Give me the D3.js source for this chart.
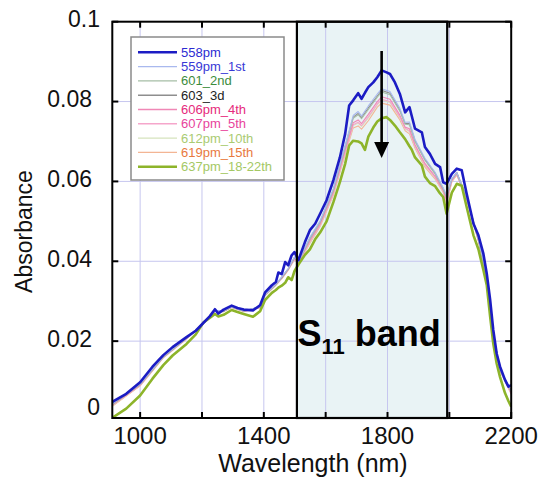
<!DOCTYPE html>
<html>
<head>
<meta charset="utf-8">
<script src="https://cdn.jsdelivr.net/npm/d3@7"></script>
<style>
  html, body { margin: 0; padding: 0; background: #fff; }
  svg { display: block; font-family: "Liberation Sans", Arial, Helvetica, sans-serif; }
</style>
</head>
<body>
<div id="chart"></div>
<script>
'use strict';

// NIR-Spektren: Absorbance vs. Wavelength (nm)
const wavelengths = [910, 955, 1000, 1040, 1075, 1105, 1150, 1180, 1205, 1225, 1242, 1253, 1270, 1296, 1315, 1335, 1365, 1388, 1404, 1426,
  1439, 1447, 1458, 1469, 1479, 1490, 1499, 1512, 1533, 1549, 1566, 1582, 1603, 1625, 1646, 1663, 1676, 1689, 1705, 1716,
  1727, 1738, 1754, 1767, 1781, 1797, 1808, 1824, 1840, 1857, 1871, 1878, 1889, 1911, 1921, 1937, 1954, 1970, 1980, 1991,
  2008, 2024, 2040, 2056, 2078, 2094, 2110, 2121, 2132, 2142, 2153, 2164, 2180, 2191, 2200];

const abs558 = [.0048, .0068, .0097, .0136, .0165, .0185, .0210, .0226, .0246, .0262, .0280, .0269, .0279, .0289, .0283, .0279, .0277, .0290, .0322, .0340,
  .0348, .0372, .0368, .0398, .0390, .0415, .0423, .0403, .0448, .0478, .0494, .0519, .0553, .0603, .0660, .0719, .0790, .0803, .0821, .0807,
  .0822, .0836, .0848, .0861, .0878, .0873, .0869, .0848, .0819, .0773, .0786, .0765, .0732, .0723, .0686, .0669, .0644, .0636, .0598, .0594,
  .0619, .0632, .0628, .0569, .0494, .0465, .0419, .0369, .0303, .0228, .0169, .0136, .0103, .0086, .0090];

const abs637 = [.0008, .0031, .0064, .0106, .0140, .0164, .0193, .0217, .0247, .0258, .0268, .0262, .0266, .0278, .0273, .0268, .0261, .0275, .0303, .0321,
  .0328, .0334, .0339, .0346, .0360, .0353, .0375, .0392, .0416, .0430, .0455, .0472, .0500, .0548, .0598, .0644, .0690, .0702, .0700, .0695,
  .0679, .0712, .0735, .0750, .0758, .0761, .0754, .0740, .0723, .0706, .0688, .0680, .0660, .0640, .0612, .0596, .0588, .0570, .0561, .0519,
  .0572, .0594, .0589, .0536, .0465, .0430, .0378, .0340, .0261, .0194, .0144, .0110, .0070, .0050, .0036];

// Zwischenproben: gröberes Raster
const midWavelengths = [910, 1000, 1075, 1150, 1205, 1242, 1270, 1296, 1335, 1388, 1404, 1439, 1458, 1479, 1499, 1512, 1549, 1582, 1625, 1663,
  1689, 1705, 1716, 1738, 1767, 1781, 1808, 1840, 1857, 1871, 1889, 1921, 1954, 1980, 1991, 2008, 2024, 2056, 2094, 2121,
  2142, 2164, 2200];

const abs559 = [.0043, .0093, .0162, .0208, .0246, .0277, .0276, .0286, .0276, .0286, .0317, .0343, .0361, .0382, .0411, .0399, .0460, .0501, .0582, .0690,
  .0765, .0775, .0764, .0789, .0819, .0832, .0825, .0783, .0748, .0749, .0705, .0658, .0623, .0584, .0565, .0607, .0622, .0561, .0456, .0362,
  .0219, .0129, .0076];
const abs601 = [.0041, .0091, .0160, .0207, .0246, .0276, .0275, .0285, .0275, .0286, .0316, .0342, .0360, .0381, .0410, .0398, .0456, .0498, .0578, .0685,
  .0758, .0767, .0757, .0780, .0811, .0824, .0817, .0776, .0743, .0742, .0700, .0653, .0619, .0581, .0560, .0605, .0621, .0559, .0454, .0360,
  .0218, .0128, .0074];
const abs603 = [.0042, .0092, .0161, .0207, .0245, .0276, .0275, .0286, .0276, .0285, .0316, .0342, .0359, .0381, .0409, .0399, .0458, .0499, .0580, .0688,
  .0761, .0770, .0760, .0784, .0814, .0828, .0821, .0779, .0745, .0745, .0702, .0655, .0620, .0582, .0563, .0606, .0623, .0560, .0455, .0361,
  .0219, .0129, .0075];
const abs606 = [.0040, .0090, .0160, .0207, .0246, .0276, .0275, .0285, .0275, .0285, .0316, .0342, .0359, .0380, .0408, .0397, .0452, .0493, .0573, .0678,
  .0747, .0754, .0745, .0768, .0800, .0812, .0806, .0766, .0736, .0732, .0692, .0645, .0613, .0578, .0553, .0603, .0619, .0557, .0453, .0359,
  .0216, .0127, .0071];
const abs607 = [.0039, .0089, .0159, .0206, .0246, .0275, .0274, .0284, .0274, .0284, .0315, .0341, .0358, .0379, .0406, .0396, .0449, .0491, .0570, .0674,
  .0742, .0748, .0740, .0762, .0794, .0806, .0800, .0761, .0733, .0727, .0689, .0642, .0610, .0576, .0549, .0601, .0618, .0556, .0452, .0358,
  .0215, .0126, .0069];
const abs612 = [.0038, .0089, .0159, .0206, .0246, .0275, .0274, .0285, .0275, .0284, .0315, .0340, .0357, .0379, .0405, .0396, .0448, .0490, .0569, .0672,
  .0740, .0746, .0738, .0759, .0792, .0804, .0798, .0759, .0731, .0725, .0687, .0640, .0609, .0575, .0547, .0600, .0617, .0556, .0451, .0357,
  .0214, .0126, .0068];
const abs619 = [.0037, .0088, .0158, .0205, .0246, .0275, .0274, .0285, .0275, .0284, .0314, .0340, .0356, .0378, .0404, .0395, .0445, .0487, .0566, .0668,
  .0734, .0739, .0731, .0752, .0786, .0796, .0791, .0754, .0727, .0719, .0683, .0636, .0606, .0573, .0543, .0599, .0616, .0555, .0450, .0357,
  .0214, .0125, .0067];

const seriesLabels = ['558pm', '559pm_1st', '601_2nd', '603_3d', '606pm_4th', '607pm_5th', '612pm_10th', '619pm_15th', '637pm_18-22th'];
const xTicks = [1000, 1200, 1400, 1600, 1800, 2000, 2200];
const xTickLabels = [1000, 1400, 1800, 2200];
const yTicks = [0, 0.02, 0.04, 0.06, 0.08, 0.1];
const bandRange = [1507, 1993];   // S11-Bande
const arrowAt = 1781;

(function () {
  const width = 541, height = 477;
  const left = 112.3, right = 511.2, top = 21.7, bottom = 418;

  // Linienfarben, Textfarben, Strichstärken in Legendenreihenfolge
  const lineColor = ['#1c1cc4', '#a9b9ee', '#a6bea6', '#8e8e8e', '#f088b6', '#f5a6cb', '#d6e3bd', '#f3b594', '#8db42a'];
  const textColor = ['#2b2bd2', '#3838d6', '#3c8c3c', '#222222', '#e62a7c', '#e8449c', '#a9cb72', '#e8793e', '#a4c864'];
  const lineWidth = [2.6, 1.1, 1.1, 1.1, 1.1, 1.1, 1.1, 1.1, 2.6];

  const series = [
    { x: wavelengths, y: abs558 },
    { x: midWavelengths, y: abs559 },
    { x: midWavelengths, y: abs601 },
    { x: midWavelengths, y: abs603 },
    { x: midWavelengths, y: abs606 },
    { x: midWavelengths, y: abs607 },
    { x: midWavelengths, y: abs612 },
    { x: midWavelengths, y: abs619 },
    { x: wavelengths, y: abs637 }
  ];

  const x = d3.scaleLinear().domain([910, 2200]).range([left, right]);
  const y = d3.scaleLinear().domain([0, 0.1]).range([421, 21.7]);

  const svg = d3.select('#chart').append('svg')
    .attr('width', width).attr('height', height);

  svg.append('defs').append('clipPath').attr('id', 'plot-clip')
    .append('rect').attr('x', left).attr('y', top)
    .attr('width', right - left).attr('height', bottom - top);

  // Bandfläche unter dem Gitter
  svg.append('rect')
    .attr('x', x(bandRange[0])).attr('y', top)
    .attr('width', x(bandRange[1]) - x(bandRange[0])).attr('height', bottom - top)
    .attr('fill', '#e9f3f5');

  const grid = svg.append('g').attr('stroke', '#c6c6ef').attr('stroke-width', 1);
  grid.selectAll('line.gx')
    .data(xTicks.filter(t => t < 2200))
    .join('line').attr('class', 'gx')
      .attr('x1', d => x(d)).attr('x2', d => x(d))
      .attr('y1', top).attr('y2', bottom);
  grid.selectAll('line.gy')
    .data(yTicks.filter(t => t > 0 && t < 0.1))
    .join('line').attr('class', 'gy')
      .attr('x1', left).attr('x2', right)
      .attr('y1', d => y(d)).attr('y2', d => y(d));

  // Kurven: Zwischenproben zuerst, dann 637 und 558 obenauf
  const line = d3.line().x(d => x(d[0])).y(d => y(d[1]));
  const drawOrder = [7, 6, 5, 4, 3, 2, 1, 8, 0];
  const curves = svg.append('g').attr('clip-path', 'url(#plot-clip)');
  drawOrder.forEach(i => {
    const s = series[i];
    curves.append('path')
      .datum(s.x.map((w, k) => [w, s.y[k]]))
      .attr('d', line)
      .attr('fill', 'none')
      .attr('stroke', lineColor[i])
      .attr('stroke-width', lineWidth[i])
      .attr('stroke-linejoin', 'round');
  });

  // Bandrahmen
  svg.append('rect')
    .attr('x', x(bandRange[0])).attr('y', top)
    .attr('width', x(bandRange[1]) - x(bandRange[0])).attr('height', bottom - top)
    .attr('fill', 'none').attr('stroke', '#000').attr('stroke-width', 2.2);

  // Pfeil (Abnahme der Absorbance)
  const ax = x(arrowAt);
  svg.append('line')
    .attr('x1', ax).attr('x2', ax).attr('y1', 51).attr('y2', 145)
    .attr('stroke', '#000').attr('stroke-width', 2.6);
  svg.append('path')
    .attr('d', `M${ax - 7.5},142 L${ax + 7.5},142 L${ax},158 Z`)
    .attr('fill', '#000');

  // S11 band
  const band = svg.append('text')
    .attr('x', x(bandRange[0]) + 0.5).attr('y', 346)
    .attr('font-size', 36).attr('font-weight', 'bold').attr('fill', '#000');
  band.append('tspan').text('S');
  band.append('tspan').attr('font-size', 22).attr('dy', 8).text('11');
  band.append('tspan').attr('dy', -8).text(' band');

  // Rahmen und Ticks (innen, alle vier Seiten)
  svg.append('rect')
    .attr('x', left).attr('y', top)
    .attr('width', right - left).attr('height', bottom - top)
    .attr('fill', 'none').attr('stroke', '#000').attr('stroke-width', 2);

  const ticks = svg.append('g').attr('stroke', '#000').attr('stroke-width', 2);
  xTicks.forEach(t => {
    ticks.append('line').attr('x1', x(t)).attr('x2', x(t)).attr('y1', bottom).attr('y2', bottom - 6);
    ticks.append('line').attr('x1', x(t)).attr('x2', x(t)).attr('y1', top).attr('y2', top + 6);
  });
  yTicks.forEach(t => {
    const yy = Math.min(y(t), bottom);
    ticks.append('line').attr('x1', left).attr('x2', left + 6).attr('y1', yy).attr('y2', yy);
    ticks.append('line').attr('x1', right).attr('x2', right - 6).attr('y1', yy).attr('y2', yy);
  });

  svg.append('g').selectAll('text')
    .data(xTickLabels)
    .join('text')
      .attr('x', d => x(d)).attr('y', 444)
      .attr('text-anchor', 'middle')
      .attr('font-size', 24).attr('fill', '#111')
      .text(d => d);

  svg.append('g').selectAll('text')
    .data(yTicks)
    .join('text')
      .attr('x', d => (d === 0 || d === 0.1) ? 100 : 92)
      .attr('y', d => d === 0 ? 414.5 : y(d) + 5.5)
      .attr('text-anchor', 'end')
      .attr('font-size', 23).attr('fill', '#111')
      .text(d => d3.format('~g')(d));

  svg.append('text')
    .attr('x', 313).attr('y', 472)
    .attr('text-anchor', 'middle')
    .attr('font-size', 25).attr('fill', '#111')
    .text('Wavelength (nm)');

  svg.append('text')
    .attr('transform', 'translate(32,231.5) rotate(-90)')
    .attr('text-anchor', 'middle')
    .attr('font-size', 23).attr('fill', '#111')
    .text('Absorbance');

  // Legende
  const legend = svg.append('g');
  legend.append('rect')
    .attr('x', 131).attr('y', 37).attr('width', 153).attr('height', 143)
    .attr('fill', '#fff').attr('stroke', '#8a8a8a').attr('stroke-width', 1.5);
  seriesLabels.forEach((name, i) => {
    const ly = 52.3 + i * 14.3;
    legend.append('line')
      .attr('x1', 138).attr('x2', 177).attr('y1', ly).attr('y2', ly)
      .attr('stroke', lineColor[i]).attr('stroke-width', lineWidth[i] === 1.1 ? 1.4 : 2.4);
    legend.append('text')
      .attr('x', 181).attr('y', ly + 4.5)
      .attr('font-size', 13).attr('fill', textColor[i])
      .text(name);
  });
})();
</script>
</body>
</html>
